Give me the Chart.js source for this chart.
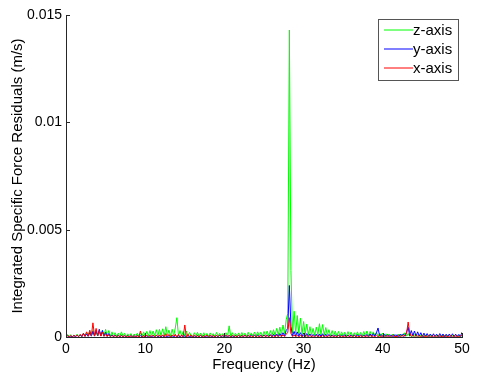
<!DOCTYPE html>
<html lang="en">
<head>
  <meta charset="UTF-8">
  <title>Integrated Specific Force Residuals</title>
  <style>
    body {
      margin: 0;
      background-color: #ffffff;
    }
    #chartBox {
      width: 480px;
      height: 380px;
    }
  </style>
  <script src="https://cdn.jsdelivr.net/npm/chart.js"></script>
</head>
<body>
  <div id="chartBox">
    <canvas id="residualChart" width="480" height="380"></canvas>
  </div>

  <script>
    // residual values in units of 1e-4 m/s
    const UNIT = 1e-4;
    const STEP_HZ = 0.2; // sampling of the read-off spectrum, 0 .. 50 Hz

    const zAxis = [
      0.2, 1.2, 0.3, 1.0, 0.2, 0.9, 0.3, 1.3, 0.2, 1.1,
      0.3, 1.6, 0.4, 2.2, 0.5, 2.6, 0.6, 3.0, 0.5, 2.4,
      0.6, 2.8, 0.5, 3.2, 0.7, 3.6, 0.5, 3.0, 0.4, 2.4,
      0.3, 2.0, 0.4, 1.8, 0.3, 2.4, 0.4, 1.7, 0.3, 1.5,
      0.3, 1.6, 0.2, 1.4, 0.4, 1.8, 0.3, 2.0, 0.4, 2.4,
      0.4, 2.6, 0.5, 3.0, 0.4, 2.8, 0.6, 3.4, 0.5, 3.6,
      0.6, 3.8, 0.5, 4.8, 0.7, 3.2, 0.5, 3.6, 0.6, 4.2,
      9.0, 0.6, 3.0, 0.5, 2.6, 0.4, 2.8, 0.5, 2.2, 0.4,
      0.3, 2.0, 0.4, 2.2, 0.3, 1.8, 0.4, 2.0, 0.3, 1.7,
      0.3, 1.9, 0.4, 1.6, 0.3, 2.1, 0.4, 1.8, 0.3, 1.6,
      0.4, 2.0, 0.3, 5.2, 0.4, 2.0, 0.3, 1.8, 0.4, 1.9,
      0.3, 2.1, 0.4, 1.8, 0.3, 2.2, 0.4, 1.9, 0.5, 2.3,
      0.4, 2.4, 0.5, 2.2, 0.4, 2.6, 0.6, 2.8, 0.5, 3.0,
      0.6, 3.4, 0.8, 4.0, 0.9, 4.6, 1.2, 5.6, 1.6, 8.0,
      11.0, 143.0, 31.0, 2.0, 12.0, 1.8, 10.0, 1.6, 8.8, 1.4,
      7.2, 1.2, 6.0, 1.0, 4.8, 0.9, 4.0, 0.8, 4.6, 1.0,
      6.2, 1.0, 5.8, 0.9, 4.4, 0.8, 3.4, 0.6, 3.0, 0.5,
      2.8, 0.5, 2.6, 0.4, 2.4, 0.5, 2.2, 0.4, 2.5, 0.5,
      2.3, 0.4, 2.0, 0.5, 2.4, 0.4, 2.1, 0.5, 2.6, 0.4,
      2.8, 0.5, 2.6, 0.4, 2.4, 0.5, 2.3, 0.4, 1.8, 0.3,
      1.8, 0.3, 1.5, 0.3, 1.4, 0.2, 1.3, 0.3, 1.2, 0.2,
      1.3, 0.3, 1.4, 0.3, 2.0, 0.4, 1.6, 0.3, 1.2, 0.2,
      1.1, 0.2, 1.0, 0.2, 1.0, 0.2, 1.1, 0.2, 0.9, 0.2,
      1.0, 0.2, 0.9, 0.2, 1.0, 0.2, 0.8, 0.2, 0.9, 0.2,
      0.9, 0.2, 1.0, 0.2, 0.8, 0.2, 0.9, 0.2, 1.0, 0.2,
      0.8
    ];

    const yAxis = [
      0.1, 0.5, 0.1, 0.4, 0.1, 0.6, 0.2, 0.8, 0.2, 1.0,
      0.2, 1.6, 0.3, 1.4, 0.3, 2.0, 0.4, 2.6, 0.4, 3.0,
      0.5, 3.6, 0.5, 3.0, 0.4, 2.2, 0.3, 1.6, 0.2, 1.0,
      0.1, 0.9, 0.1, 0.8, 0.1, 0.7, 0.1, 0.6, 0.1, 0.6,
      0.1, 0.6, 0.1, 0.5, 0.1, 0.7, 0.1, 0.6, 0.1, 0.5,
      0.1, 0.6, 0.1, 0.5, 0.1, 0.6, 0.1, 0.7, 0.1, 0.5,
      0.1, 0.6, 0.1, 0.5, 0.1, 0.6, 0.1, 0.5, 0.1, 0.6,
      0.1, 0.5, 0.1, 0.6, 0.1, 0.5, 0.1, 0.6, 0.1, 0.5,
      0.1, 0.5, 0.1, 0.6, 0.1, 0.7, 0.1, 0.5, 0.1, 0.6,
      0.1, 0.6, 0.1, 0.5, 0.1, 0.6, 0.1, 0.8, 0.1, 0.6,
      0.1, 0.6, 0.1, 0.7, 0.1, 0.5, 0.1, 0.6, 0.1, 0.7,
      0.1, 0.6, 0.2, 0.8, 0.1, 0.7, 0.2, 0.9, 0.2, 0.8,
      0.2, 0.9, 0.2, 0.8, 0.2, 1.0, 0.2, 0.9, 0.2, 1.1,
      0.2, 1.2, 0.3, 1.4, 0.3, 1.6, 0.4, 2.0, 0.5, 3.0,
      4.0, 24.0, 5.0, 0.5, 2.6, 0.4, 2.4, 0.4, 2.0, 0.3,
      1.8, 0.3, 1.6, 0.3, 1.4, 0.2, 1.2, 0.3, 1.3, 0.2,
      1.4, 0.3, 1.5, 0.2, 1.3, 0.2, 1.2, 0.2, 1.0, 0.2,
      0.9, 0.2, 1.0, 0.2, 0.9, 0.2, 1.1, 0.2, 0.9, 0.2,
      1.0, 0.2, 0.9, 0.2, 1.1, 0.2, 0.9, 0.2, 1.0, 0.2,
      1.2, 0.2, 1.4, 0.3, 1.6, 0.4, 2.0, 4.2, 0.5, 1.2,
      0.2, 1.2, 0.2, 1.1, 0.2, 1.0, 0.2, 1.2, 0.2, 1.1,
      0.2, 1.3, 0.3, 1.5, 0.3, 2.2, 4.6, 0.6, 3.0, 0.5,
      2.8, 0.4, 2.4, 0.4, 2.0, 0.3, 1.8, 0.3, 1.6, 0.3,
      1.4, 0.2, 1.5, 0.2, 1.3, 0.2, 1.6, 0.2, 1.4, 0.2,
      1.3, 0.2, 1.4, 0.2, 1.5, 0.2, 1.3, 0.2, 1.2, 0.3,
      2.2
    ];

    const xAxis = [
      0.1, 0.7, 0.1, 0.6, 0.1, 0.8, 0.1, 0.9, 0.2, 1.2,
      0.2, 1.8, 0.3, 2.4, 0.4, 3.2, 0.5, 6.6, 0.6, 4.0,
      0.5, 3.0, 0.4, 2.2, 0.3, 1.5, 0.2, 1.0, 0.1, 0.8,
      0.1, 0.7, 0.1, 0.6, 0.1, 0.8, 0.1, 0.6, 0.1, 0.5,
      0.1, 0.6, 0.1, 0.5, 0.1, 0.6, 0.1, 2.8, 0.1, 0.7,
      0.1, 0.8, 0.1, 0.7, 0.1, 0.9, 0.1, 0.8, 0.1, 1.0,
      0.1, 1.0, 0.2, 1.6, 0.1, 1.2, 0.1, 1.0, 0.1, 1.3,
      0.1, 1.2, 0.1, 1.0, 0.1, 5.6, 0.1, 1.2, 0.1, 1.0,
      0.1, 0.8, 0.1, 0.7, 0.1, 0.8, 0.1, 0.7, 0.1, 0.9,
      0.1, 0.7, 0.1, 0.8, 0.1, 0.7, 0.1, 0.9, 0.1, 0.7,
      0.1, 0.8, 0.1, 0.7, 0.1, 0.8, 0.1, 0.7, 0.1, 0.8,
      0.1, 0.7, 0.1, 0.8, 0.1, 0.7, 0.1, 0.6, 0.1, 0.8,
      0.1, 0.7, 0.1, 0.6, 0.1, 0.8, 0.1, 0.7, 0.1, 0.8,
      0.1, 0.7, 0.1, 0.8, 0.1, 0.9, 0.1, 1.0, 0.2, 1.4,
      2.0, 9.0, 1.6, 0.2, 0.9, 0.1, 0.8, 0.1, 0.7, 0.1,
      0.7, 0.1, 0.6, 0.1, 0.7, 0.1, 0.6, 0.1, 0.7, 0.1,
      0.6, 0.1, 0.7, 0.1, 0.6, 0.1, 0.7, 0.1, 0.6, 0.1,
      0.6, 0.1, 0.7, 0.1, 0.6, 0.1, 0.5, 0.1, 0.7, 0.1,
      0.6, 0.1, 0.7, 0.1, 0.6, 0.1, 0.6, 0.1, 0.7, 0.1,
      0.6, 0.1, 0.7, 0.1, 0.6, 0.1, 0.8, 0.1, 0.6, 0.1,
      0.6, 0.1, 0.7, 0.1, 0.6, 0.1, 0.7, 0.1, 0.6, 0.1,
      0.7, 0.1, 0.9, 0.2, 0.8, 1.6, 7.0, 1.8, 0.2, 0.8,
      0.1, 0.8, 0.1, 0.7, 0.1, 0.6, 0.1, 0.7, 0.1, 0.6,
      0.1, 0.6, 0.1, 0.7, 0.1, 0.6, 0.1, 0.7, 0.1, 0.6,
      0.1, 0.6, 0.1, 0.7, 0.1, 0.6, 0.1, 0.7, 0.1, 0.6,
      0.6
    ];

    const seriesLabels = ['z-axis', 'y-axis', 'x-axis'];
    const seriesColors = ['#00ff00', '#0000ff', '#ff0000'];
    const xTicks = [0, 10, 20, 30, 40, 50];
    const yTicks = [0, 0.005, 0.01, 0.015];

    const FONT = "'Liberation Sans', Arial, sans-serif";

    function toPoints(values) {
      return values.map((v, i) => ({ x: +(i * STEP_HZ).toFixed(1), y: v * UNIT }));
    }

    // MATLAB style ticks pointing into the plot
    const innerTicks = {
      id: 'innerTicks',
      afterDraw(chart) {
        const { ctx, chartArea, scales } = chart;
        ctx.save();
        ctx.strokeStyle = '#262626';
        ctx.lineWidth = 1;
        ctx.beginPath();
        xTicks.forEach(t => {
          const px = Math.round(scales.x.getPixelForValue(t)) + 0.5;
          ctx.moveTo(px, chartArea.bottom);
          ctx.lineTo(px, chartArea.bottom - 4);
        });
        yTicks.forEach(t => {
          const py = Math.round(scales.y.getPixelForValue(t)) + 0.5;
          ctx.moveTo(chartArea.left, py);
          ctx.lineTo(chartArea.left + 4, py);
        });
        ctx.stroke();
        ctx.restore();
      }
    };

    // legend box sitting inside the axes, top right
    const insideLegend = {
      id: 'insideLegend',
      afterDraw(chart) {
        const ctx = chart.ctx;
        const box = { x: 378.5, y: 19.5, w: 80, h: 61 };
        ctx.save();
        ctx.fillStyle = '#ffffff';
        ctx.fillRect(box.x, box.y, box.w, box.h);
        ctx.strokeStyle = '#555555';
        ctx.lineWidth = 1;
        ctx.strokeRect(box.x, box.y, box.w, box.h);
        ctx.font = '15px ' + FONT;
        ctx.textBaseline = 'middle';
        ctx.textAlign = 'left';
        seriesLabels.forEach((label, i) => {
          const y = 30 + i * 19;
          ctx.strokeStyle = seriesColors[i];
          ctx.beginPath();
          ctx.moveTo(384, y);
          ctx.lineTo(413, y);
          ctx.stroke();
          ctx.fillStyle = '#000000';
          ctx.fillText(label, 413, y + 1);
        });
        ctx.restore();
      }
    };

    const ctx = document.getElementById('residualChart').getContext('2d');

    // x-axis last so it is painted on top, z-axis first (underneath)
    const seriesData = [zAxis, yAxis, xAxis];
    const datasets = [2, 1, 0].map(i => ({
      label: seriesLabels[i],
      data: toPoints(seriesData[i]),
      borderColor: seriesColors[i],
      borderWidth: 1,
      pointRadius: 0,
      tension: 0,
      fill: false
    }));

    new Chart(ctx, {
      type: 'line',
      data: { datasets: datasets },
      options: {
        responsive: false,
        animation: false,
        events: [],
        layout: {
          padding: { top: 15, right: 18, left: 0, bottom: 0 }
        },
        plugins: {
          legend: { display: false },
          tooltip: { enabled: false }
        },
        scales: {
          x: {
            type: 'linear',
            min: 0,
            max: 50,
            afterFit: s => { s.height = 43; },
            afterBuildTicks: s => { s.ticks = xTicks.map(v => ({ value: v })); },
            grid: { display: false, drawTicks: false },
            border: { display: true, color: '#262626' },
            ticks: {
              color: '#000000',
              padding: 4,
              maxRotation: 0,
              font: { family: FONT, size: 14 }
            },
            title: {
              display: true,
              text: 'Frequency (Hz)',
              color: '#000000',
              padding: { top: 0, bottom: 6 },
              font: { family: FONT, size: 15 }
            }
          },
          y: {
            type: 'linear',
            min: 0,
            max: 0.015,
            afterFit: s => { s.width = 66; },
            afterBuildTicks: s => { s.ticks = yTicks.map(v => ({ value: v })); },
            grid: { display: false, drawTicks: false },
            border: { display: true, color: '#262626' },
            ticks: {
              color: '#000000',
              padding: 4,
              font: { family: FONT, size: 14 },
              callback: v => String(+v.toFixed(4))
            },
            title: {
              display: true,
              text: 'Integrated Specific Force Residuals (m/s)',
              color: '#000000',
              padding: { top: 9, bottom: 0 },
              font: { family: FONT, size: 15 }
            }
          }
        }
      },
      plugins: [innerTicks, insideLegend]
    });
  </script>
</body>
</html>
